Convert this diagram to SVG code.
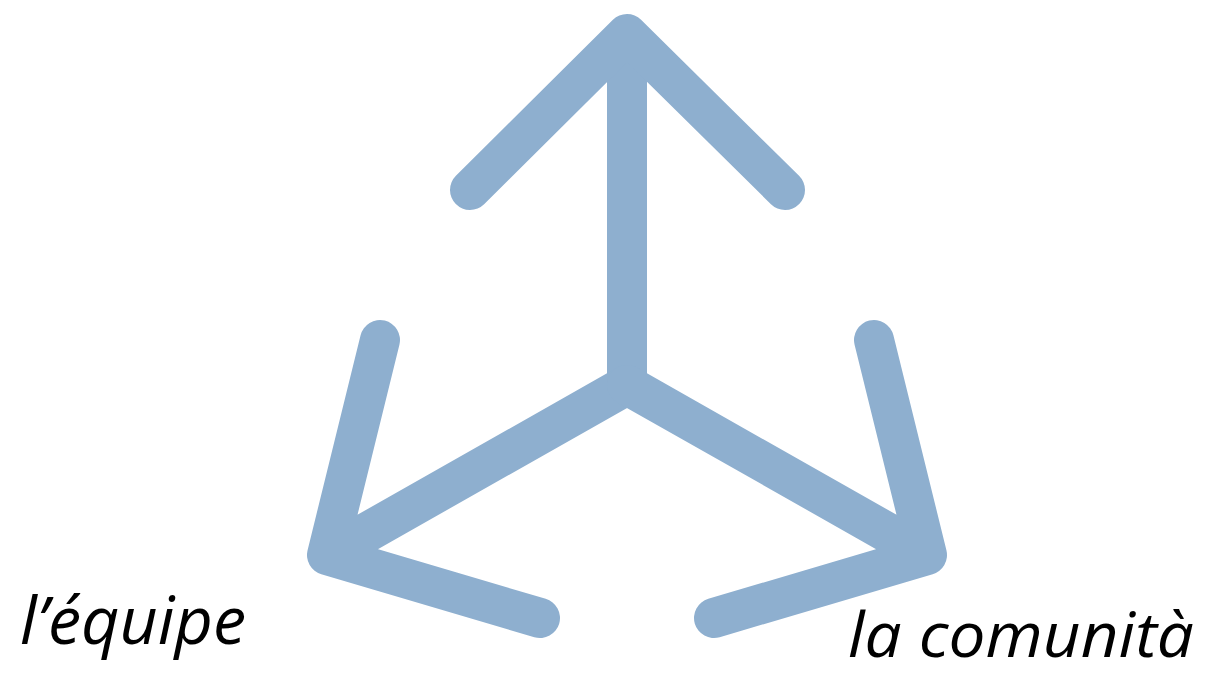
<svg xmlns="http://www.w3.org/2000/svg" width="1214" height="674" viewBox="0 0 1214 674">
<style>
.arr{fill:none;stroke:#8EAFCF;stroke-width:40;stroke-linecap:round;stroke-linejoin:round}
.lbl{font-family:"Open Sans","Noto Sans","Liberation Sans",sans-serif;font-style:italic;font-size:66px;fill:#000}
</style>
<rect width="1214" height="674" fill="#fff"/>
<g id="connectors">
<path class="arr" d="M627,385 L627,36" style="stroke-linecap:butt"/>
<path class="arr" d="M470,190 L627,34 L785,190"/>
<path class="arr" d="M627,385 L327,555 M380,340 L327,555 L540,618" />
<path class="arr" d="M627,385 L927,555 M874,340 L927,555 L714,618" />
</g>
<g id="label-equipe"><text class="lbl" x="20" y="644" textLength="226" lengthAdjust="spacingAndGlyphs">l’équipe</text></g>
<g id="label-comunita"><text class="lbl" x="848" y="657" style="font-size:62px" textLength="346" lengthAdjust="spacingAndGlyphs">la comunità</text></g>
</svg>
